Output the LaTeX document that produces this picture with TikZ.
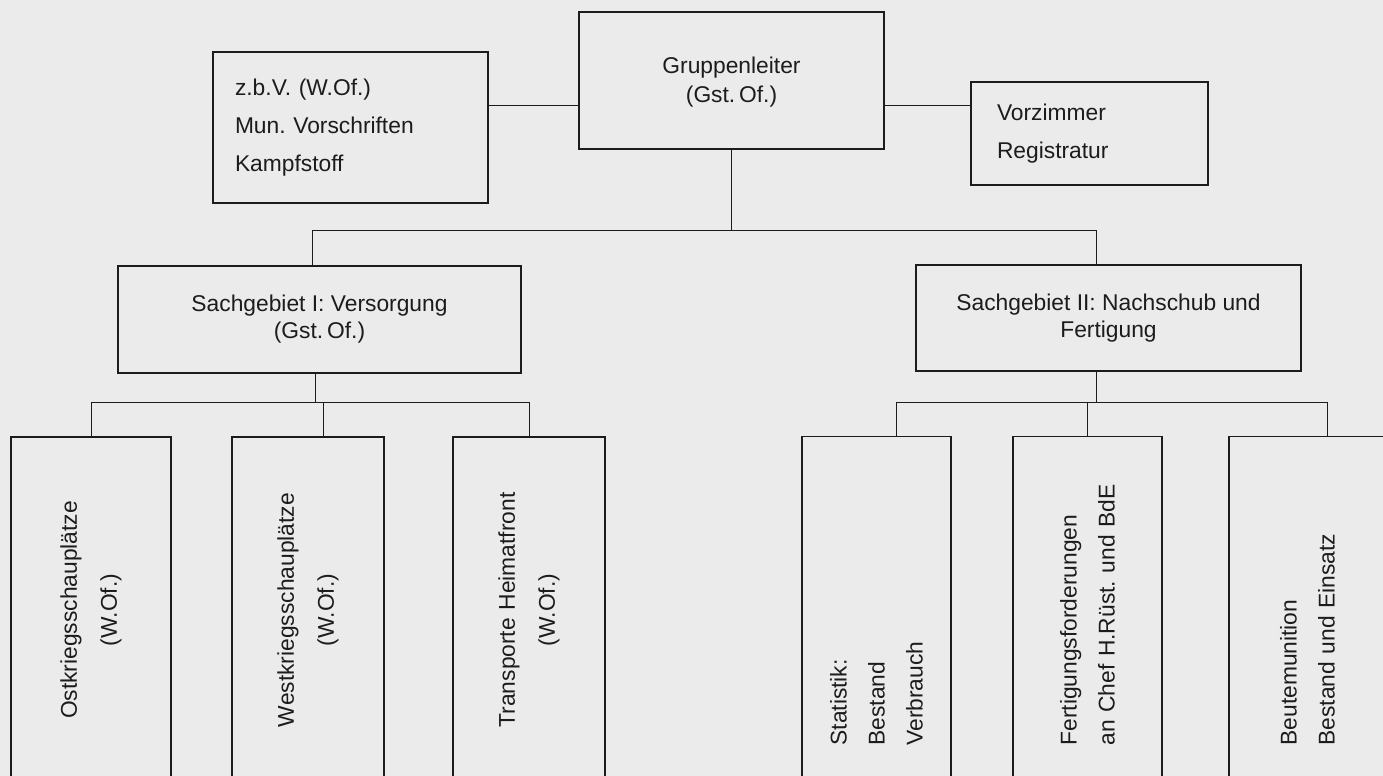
\documentclass[tikz,border=0pt]{standalone}
\usepackage{fontspec}
\setmainfont{Liberation Sans}
\definecolor{paper}{RGB}{235,235,235}
\definecolor{ink}{RGB}{28,28,28}
\frenchspacing

\begin{document}
\begin{tikzpicture}[x=0.5pt,y=-0.5pt,color=ink,line width=0.5pt]
  \tikzstyle{box}=[draw=ink,line width=0.9pt,text=ink,inner ysep=0pt,
                   font=\fontsize{11.4}{19}\selectfont]
  \tikzstyle{upright}=[box,rotate=90,inner xsep=18.5pt,text width=136pt]

  \useasboundingbox (0,0) rectangle (1383,776);
  \fill[paper] (0,0) rectangle (1383,776);
  \clip (0,0) rectangle (1383,776);

  \node[box,minimum width=152.5pt,minimum height=68.5pt,align=center,
        font=\fontsize{11.4}{14.5}\selectfont] (grp) at (731.5,80.5)
        {\strut Gruppenleiter\\(Gst.\,Of.)};
  \node[box,minimum height=75.5pt,inner xsep=11pt,text width=115.5pt,
        align=left] (zbv) at (350.5,127.5)
        {z.b.V. (W.Of.)\\Mun. Vorschriften\\Kampfstoff};
  \node[box,minimum height=51.5pt,inner xsep=13pt,text width=92.5pt,
        align=left] (vorz) at (1089.5,133.5) {Vorzimmer\\Registratur};

  \node[box,minimum width=201.5pt,minimum height=53.5pt,align=center,
        font=\fontsize{11.4}{13.5}\selectfont] (sgI) at (319.5,319.5)
        {Sachgebiet I: Versorgung\\(Gst.\,Of.)};
  \node[box,minimum width=192.5pt,minimum height=53pt,align=center,
        font=\fontsize{11.4}{13.5}\selectfont] (sgII) at (1108.5,318)
        {Sachgebiet II: Nachschub und\\Fertigung};

  \node[upright,align=center,minimum height=80pt,
        font=\fontsize{11.4}{20}\selectfont] (ost) at (91,610)
        {Ostkriegsschauplätze\\(W.Of.)};
  \node[upright,align=center,minimum height=76pt,
        font=\fontsize{11.4}{20}\selectfont] (west) at (308,610)
        {Westkriegsschauplätze\\(W.Of.)};
  \node[upright,align=center,minimum height=76pt,
        font=\fontsize{11.4}{20}\selectfont] (trans) at (529,610)
        {Transporte Heimatfront\\(W.Of.)};
  \node[upright,align=left,minimum height=74.5pt] (stat) at (876.5,609.5)
        {Statistik:\\Bestand\\Verbrauch};
  \node[upright,align=left,minimum height=74.5pt] (fert) at (1087.5,609.5)
        {Fertigungsforderungen\\an Chef H.Rüst. und BdE};
  \node[upright,align=left,minimum height=78.5pt] (beute) at (1307.5,609.5)
        {Beutemunition\\Bestand und Einsatz};

  \coordinate (hlink) at (0,105);
  \coordinate (busT) at (0,230);
  \coordinate (busB) at (0,402);

  \draw (zbv.east |- hlink) -- (grp.west |- hlink);
  \draw (grp.east |- hlink) -- (vorz.west |- hlink);
  \draw (grp.south) -- (grp.south |- busT);
  \draw ([xshift=-3.5pt]sgI.north) |- ([xshift=-6pt]sgII.north |- busT)
        -- ([xshift=-6pt]sgII.north);

  \draw ([xshift=-2pt]sgI.south) -- ([xshift=-2pt]sgI.south |- busB);
  \draw (ost.east) |- (trans.east |- busB) -- (trans.east);
  \draw ([xshift=7.5pt]west.east) -- ([xshift=7.5pt]west.east |- busB);

  \draw ([xshift=-6pt]sgII.south) -- ([xshift=-6pt]sgII.south |- busB);
  \draw ([xshift=9.75pt]stat.east) |- ([xshift=9.75pt]beute.east |- busB)
        -- ([xshift=9.75pt]beute.east);
  \draw (fert.east) -- (fert.east |- busB);
\end{tikzpicture}
\end{document}
